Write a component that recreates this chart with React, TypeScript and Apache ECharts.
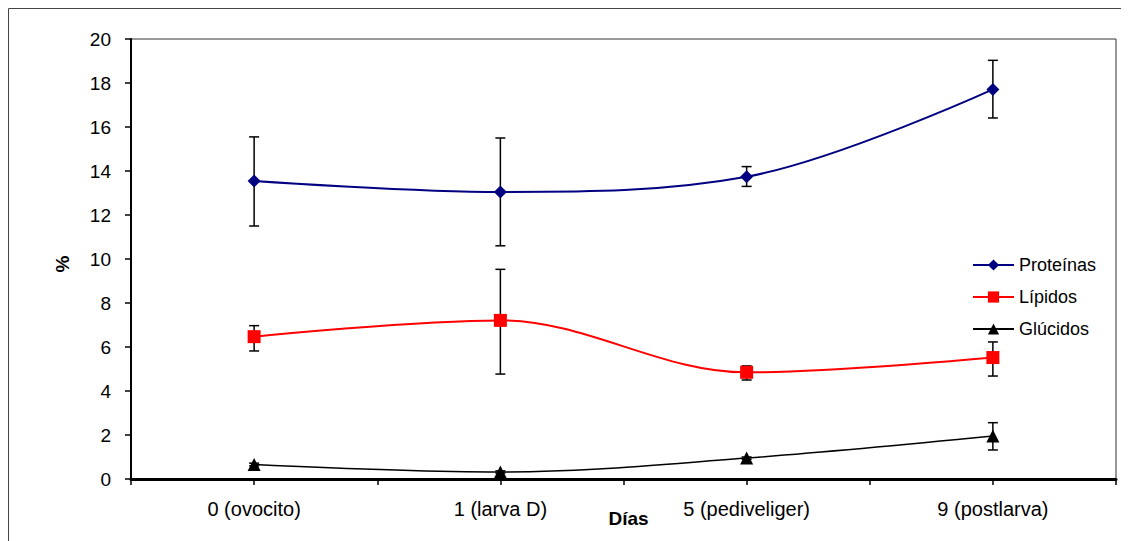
import React, { useEffect, useRef } from "react";
import * as echarts from "echarts";

const categories = ["0 (ovocito)", "1 (larva D)", "5 (pediveliger)", "9 (postlarva)"];
const yTicks = [0, 2, 4, 6, 8, 10, 12, 14, 16, 18, 20];

const proteinas = [13.55, 13.05, 13.74, 17.71];
const proteinasLow = [11.5, 10.6, 13.3, 16.41];
const proteinasHigh = [15.55, 15.5, 14.2, 19.03];

const lipidos = [6.47, 7.21, 4.85, 5.52];
const lipidosLow = [5.82, 4.77, 4.5, 4.68];
const lipidosHigh = [6.97, 9.53, 5.14, 6.23];

const glucidos = [0.66, 0.32, 0.95, 1.95];
const glucidosLow = [0.6, 0.27, 0.9, 1.32];
const glucidosHigh = [0.72, 0.37, 1.0, 2.56];

const FONT = 'Arial, "Liberation Sans", sans-serif';

const xPos = (i: number) => 2 * i + 1;

const toPoints = (vals: number[]) => vals.map((v, i) => [xPos(i), v]);
const toErr = (low: number[], high: number[]) => low.map((l, i) => [xPos(i), l, high[i]]);

export default function App() {
  const ref = useRef<HTMLDivElement>(null);
  useEffect(() => {
    if (!ref.current) return;
    const chart = echarts.init(ref.current, null, { renderer: "svg" });

    const errRender = (params: any, api: any) => {
      const x = api.value(0);
      const p1 = api.coord([x, api.value(1)]);
      const p2 = api.coord([x, api.value(2)]);
      const hw = 5;
      const style = { stroke: "#000", lineWidth: 1.5 };
      return {
        type: "group",
        children: [
          { type: "line", shape: { x1: p1[0], y1: p1[1], x2: p2[0], y2: p2[1] }, style },
          { type: "line", shape: { x1: p1[0] - hw, y1: p1[1], x2: p1[0] + hw, y2: p1[1] }, style },
          { type: "line", shape: { x1: p2[0] - hw, y1: p2[1], x2: p2[0] + hw, y2: p2[1] }, style },
        ],
      };
    };

    const errSeries = (low: number[], high: number[]) => ({
      type: "custom",
      renderItem: errRender,
      data: toErr(low, high),
      z: 1,
      silent: true,
      encode: { x: 0, y: [1, 2] },
    });

    chart.setOption({
      animation: false,
      textStyle: { fontFamily: FONT },
      grid: { left: 123, top: 31, width: 985, height: 440, show: true, borderColor: "#333", borderWidth: 1, backgroundColor: "transparent" },
      legend: {
        orient: "vertical",
        left: 964,
        top: 248,
        padding: 0,
        itemWidth: 41,
        itemHeight: 14,
        itemGap: 14,
        textStyle: { fontSize: 18, color: "#000", fontFamily: FONT, lineHeight: 14 },
        data: ["Proteínas", "Lípidos", "Glúcidos"],
      },
      xAxis: {
        type: "value",
        min: 0,
        max: 8,
        interval: 1,
        axisLine: { show: true, lineStyle: { color: "#000", width: 3 } },
        axisTick: { show: true, length: 6, lineStyle: { color: "#000", width: 1.5 } },
        axisLabel: {
          fontSize: 20,
          color: "#000",
          margin: 20,
          fontFamily: FONT,
          formatter: (v: number) => (v % 2 === 1 ? categories[(v - 1) / 2] : ""),
        },
        splitLine: { show: false },
      },
      yAxis: {
        type: "value",
        min: yTicks[0],
        max: yTicks[yTicks.length - 1],
        interval: 2,
        axisLine: { show: true, lineStyle: { color: "#000", width: 2 } },
        axisTick: { show: true, length: 6, lineStyle: { color: "#000", width: 1.5 } },
        axisLabel: { fontSize: 19, color: "#000", margin: 20, fontFamily: FONT },
        splitLine: { show: false },
      },
      graphic: [
        { type: "rect", shape: { x: 0.5, y: 0.5, width: 1400, height: 800 }, style: { fill: "none", stroke: "#444", lineWidth: 1 }, silent: true },
        { type: "text", x: 620.5, y: 510, style: { text: "Días", font: `bold 19px ${FONT}`, fill: "#000", align: "center", verticalAlign: "middle" } },
        { type: "text", x: 54.5, y: 256, rotation: Math.PI / 2, style: { text: "%", font: `bold 19px ${FONT}`, fill: "#000", align: "center", verticalAlign: "middle" } },
      ],
      series: [
        errSeries(proteinasLow, proteinasHigh),
        errSeries(lipidosLow, lipidosHigh),
        errSeries(glucidosLow, glucidosHigh),
        {
          name: "Proteínas",
          type: "line",
          data: toPoints(proteinas),
          smooth: 0.35,
          symbol: "diamond",
          symbolSize: 13,
          itemStyle: { color: "#000080" },
          lineStyle: { color: "#000080", width: 2 },
          z: 3,
        },
        {
          name: "Lípidos",
          type: "line",
          data: toPoints(lipidos),
          smooth: 0.35,
          symbol: "rect",
          symbolSize: 13,
          itemStyle: { color: "#FF0000" },
          lineStyle: { color: "#FF0000", width: 2 },
          z: 3,
        },
        {
          name: "Glúcidos",
          type: "line",
          data: toPoints(glucidos),
          smooth: 0.35,
          symbol: "triangle",
          symbolSize: 13,
          itemStyle: { color: "#000" },
          lineStyle: { color: "#000", width: 1.5 },
          z: 3,
        },
      ],
    });
    return () => chart.dispose();
  }, []);
  return <div ref={ref} style={{ width: 1121, height: 533 }} />;
}
